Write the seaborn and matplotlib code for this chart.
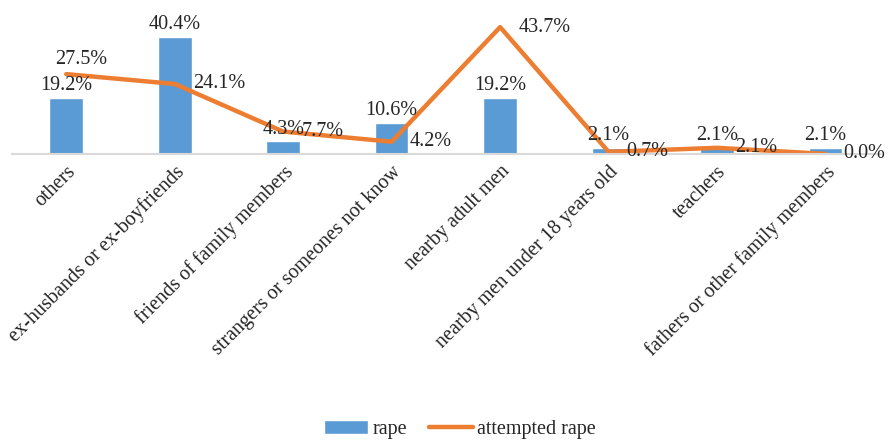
import matplotlib.pyplot as plt
import numpy as np
import pandas as pd
import seaborn as sns

categories = [
    "others",
    "ex-husbands or ex-boyfriends",
    "friends of family members",
    "strangers or someones not know",
    "nearby adult men",
    "nearby men under 18 years old",
    "teachers",
    "fathers or other family members",
]
rape = [19.2, 40.4, 4.3, 10.6, 19.2, 2.1, 2.1, 2.1]
attempted_rape = [27.5, 24.1, 7.7, 4.2, 43.7, 0.7, 2.1, 0.0]

BAR_COLOR = "#5B9BD5"
LINE_COLOR = "#ED7D31"
FS = 14.5

sns.set_theme(style="white")
plt.rcParams["font.family"] = ["Liberation Serif", "DejaVu Serif"]

df = pd.DataFrame({"category": categories, "rape": rape, "attempted": attempted_rape})

fig = plt.figure(figsize=(8.9, 4.41), dpi=100)
ax = fig.add_axes([0.0135, 0.651, 0.975, 0.329])

sns.barplot(data=df, x="category", y="rape", color=BAR_COLOR, width=0.31,
            saturation=1, ax=ax, label="rape")
x = np.arange(len(categories))
sns.lineplot(x=x, y=df["attempted"], color=LINE_COLOR, linewidth=3.2, ax=ax,
             label="attempted rape", solid_capstyle="round")

ax.set_ylim(0, 50)
ax.set_xlim(-0.5, len(categories) - 0.5)
ax.set_xlabel("")
ax.set_ylabel("")
ax.set_yticks([])
for side in ["top", "right", "left"]:
    ax.spines[side].set_visible(False)
ax.spines["bottom"].set_color("#D9D9D9")
ax.spines["bottom"].set_linewidth(1.5)

ax.set_xticks(x)
ax.set_xticklabels(categories, rotation=45, ha="right", rotation_mode="anchor",
                   fontsize=FS)
ax.tick_params(axis="x", length=0, pad=6)

for i, v in enumerate(rape):
    ax.annotate(f"{v:.1f}%", (i, v), xytext=(0, 2), textcoords="offset points",
                ha="center", va="bottom", fontsize=FS)

for i, v in enumerate(attempted_rape):
    if i == 0:
        ax.annotate(f"{v:.1f}%", (i, v), xytext=(11, 4), textcoords="offset points",
                    ha="center", va="bottom", fontsize=FS)
    else:
        ax.annotate(f"{v:.1f}%", (i, v), xytext=(13, 0), textcoords="offset points",
                    ha="left", va="center", fontsize=FS)

handles, labels = ax.get_legend_handles_labels()
order = [labels.index("rape"), labels.index("attempted rape")]
if ax.get_legend():
    ax.get_legend().remove()
fig.legend([handles[k] for k in order], [labels[k] for k in order],
           loc="center", bbox_to_anchor=(0.517, 0.027), ncol=2, frameon=False,
           fontsize=FS, handlelength=2.2, columnspacing=1.1, handletextpad=0.2)

fig.savefig("out.png", dpi=100)
